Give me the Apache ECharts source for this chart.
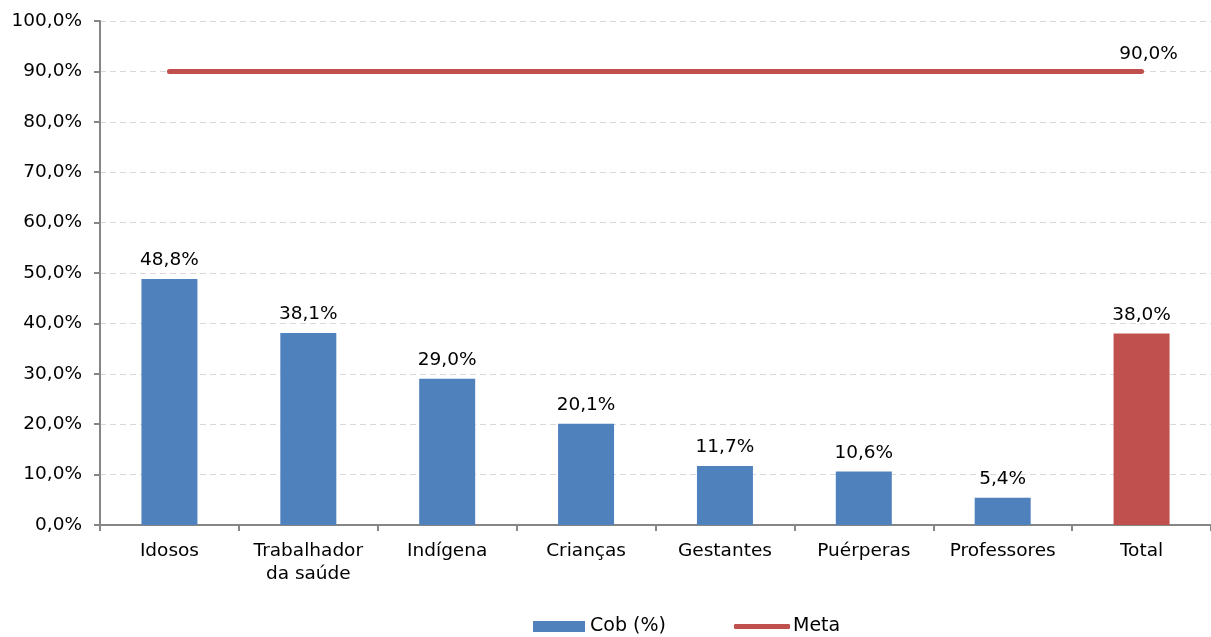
<!DOCTYPE html>
<html>
<head>
<meta charset="utf-8">
<script src="https://cdn.jsdelivr.net/npm/echarts@6/dist/echarts.min.js"></script>
<style>
  html, body { margin: 0; padding: 0; background: #fff; }
  #chart { width: 1211px; height: 637px; }
</style>
</head>
<body>
<div id="chart"></div>
<script>
  // dados
  const categories = ['Idosos', 'Trabalhador\nda saúde', 'Indígena', 'Crianças', 'Gestantes', 'Puérperas', 'Professores', 'Total']
  const cobValues = [48.8, 38.1, 29.0, 20.1, 11.7, 10.6, 5.4, 38.0]
  const metaValues = [90, 90, 90, 90, 90, 90, 90, 90]
  const yTicks = [0, 10, 20, 30, 40, 50, 60, 70, 80, 90, 100]

  const fmt = v => v.toFixed(1).replace('.', ',') + '%'
  const font = 'DejaVu Sans'
  const fs = 18.5

  let chart = echarts.init(document.getElementById('chart'))
  chart.setOption({
    animation: false,
    textStyle: { fontFamily: font },
    grid: {
      left: 100,
      right: -1,
      top: 21,
      bottom: 112
    },
    legend: [
      {
        left: 533,
        top: 617,
        padding: 0,
        itemWidth: 52,
        itemHeight: 11,
        textStyle: { fontFamily: font, fontSize: 19, color: '#000' },
        data: [{ name: 'Cob (%)', icon: 'rect' }]
      },
      {
        left: 734,
        top: 617,
        padding: 0,
        itemWidth: 56,
        itemHeight: 5,
        textStyle: { fontFamily: font, fontSize: 19, color: '#000', padding: [0, 0, 0, -2] },
        data: [{ name: 'Meta', icon: 'roundRect' }]
      }
    ],
    xAxis: {
      type: 'category',
      data: categories,
      axisLine: { lineStyle: { color: '#868686', width: 2 } },
      axisTick: { show: true, length: 6, lineStyle: { color: '#868686', width: 2 } },
      axisLabel: {
        color: '#000',
        fontSize: fs,
        lineHeight: 23,
        margin: 15,
        interval: 0
      }
    },
    yAxis: {
      type: 'value',
      min: yTicks[0],
      max: yTicks[yTicks.length - 1],
      interval: 10,
      axisLine: { show: true, lineStyle: { color: '#868686', width: 2 } },
      axisTick: { show: true, length: 6, lineStyle: { color: '#868686', width: 2 } },
      axisLabel: {
        color: '#000',
        fontSize: fs,
        margin: 18,
        formatter: v => fmt(v)
      },
      splitLine: { lineStyle: { color: '#d9d9d9', type: [6, 4], width: 1 } }
    },
    series: [
      {
        name: 'Cob (%)',
        type: 'bar',
        barWidth: 56,
        itemStyle: { color: '#4f81bd' },
        data: cobValues.map((v, i) => ({
          value: v,
          itemStyle: { color: i === cobValues.length - 1 ? '#c0504d' : '#4f81bd' }
        })),
        label: {
          show: true,
          position: 'top',
          distance: 9,
          color: '#000',
          fontSize: fs,
          formatter: p => fmt(p.value)
        }
      },
      {
        name: 'Meta',
        type: 'line',
        symbol: 'circle',
        symbolSize: 0,
        showSymbol: true,
        itemStyle: { color: '#c0504d' },
        lineStyle: { color: '#c0504d', width: 5, cap: 'round' },
        data: metaValues.map((v, i) => ({
          value: v,
          label: {
            show: i === metaValues.length - 1,
            position: 'top',
            distance: 8,
            offset: [7, 0],
            color: '#000',
            fontSize: fs,
            formatter: p => fmt(p.value)
          }
        }))
      }
    ]
  })
</script>
</body>
</html>
